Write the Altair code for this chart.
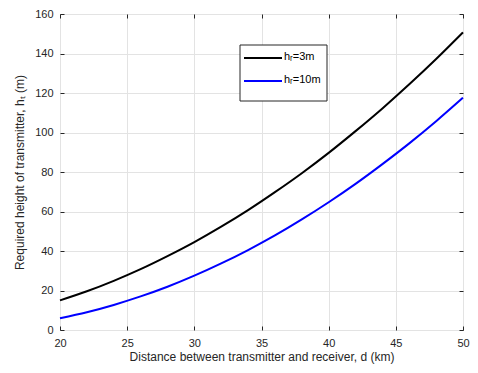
import altair as alt
import pandas as pd

distance_km = [20, 22, 24, 26, 28, 30, 32, 34, 36, 38, 40, 42, 44, 46, 48, 50]
height_hr3 = [15.0, 19.6, 24.9, 30.8, 37.4, 44.5, 52.3, 60.7, 69.8, 79.4, 89.7, 100.7, 112.2, 124.4, 137.2, 150.7]
height_hr10 = [6.0, 9.0, 12.7, 17.0, 21.9, 27.5, 33.7, 40.5, 47.9, 56.0, 64.7, 74.0, 84.0, 94.5, 105.7, 117.6]
series_names = ["hᵣ=3m", "hᵣ=10m"]
series_colors = ["#000000", "#0000ff"]
x_ticks = [20, 25, 30, 35, 40, 45, 50]
y_ticks = [0, 20, 40, 60, 80, 100, 120, 140, 160]

rows = []
for d, a, b in zip(distance_km, height_hr3, height_hr10):
    rows.append({"d": d, "h": a, "s": series_names[0]})
    rows.append({"d": d, "h": b, "s": series_names[1]})
df = pd.DataFrame(rows)

W, H = 403, 316
FONT = "Liberation Sans"
AX = "#262626"
xs = alt.Scale(domain=[20, 50], nice=False)
ys = alt.Scale(domain=[0, 160], nice=False)
color = alt.Color("s:N", scale=alt.Scale(domain=series_names, range=series_colors), legend=None)

lines = alt.Chart(df).mark_line(strokeWidth=2, interpolate="monotone").encode(
    x=alt.X("d:Q", scale=xs,
            axis=alt.Axis(values=x_ticks, title="Distance between transmitter and receiver, d (km)",
                          orient="bottom", grid=True, ticks=False, domain=False, labelFlush=False,
                          labelPadding=7, titlePadding=3)),
    y=alt.Y("h:Q", scale=ys,
            axis=alt.Axis(values=y_ticks, title="Required height of transmitter, hₜ (m)",
                          orient="left", grid=True, ticks=False, domain=False, labelFlush=False,
                          labelPadding=7, titlePadding=8)),
    color=color,
)

def tick_axis(orient, vals):
    return alt.Axis(values=vals, orient=orient, title=None, labels=False, grid=False, domain=False,
                    ticks=True, tickSize=4, offset=-4, tickColor=AX, tickWidth=1)

ticks_a = alt.Chart(df).mark_point(opacity=0).encode(
    x=alt.X("d:Q", scale=xs, axis=tick_axis("top", x_ticks)),
    y=alt.Y("h:Q", scale=ys, axis=tick_axis("right", y_ticks)),
)
ticks_b = alt.Chart(df).mark_point(opacity=0).encode(
    x=alt.X("d:Q", scale=xs, axis=tick_axis("bottom", x_ticks)),
    y=alt.Y("h:Q", scale=ys, axis=tick_axis("left", y_ticks)),
)

# Manual legend box (styling / placement only)
layers = [ticks_a, ticks_b, lines]
layers.append(alt.Chart(pd.DataFrame({"a": [0]})).mark_rect(fill="white", stroke="#262626", strokeWidth=1).encode(
    x=alt.value(180), x2=alt.value(267), y=alt.value(31), y2=alt.value(87)))
row_y = [44, 67]
for name, col, ry in zip(series_names, series_colors, row_y):
    layers.append(alt.Chart(pd.DataFrame({"s": [name]})).mark_rule(strokeWidth=2, color=col).encode(
        x=alt.value(184), x2=alt.value(222), y=alt.value(ry)))
    layers.append(alt.Chart(pd.DataFrame({"s": [name]})).mark_text(
        align="left", baseline="middle", font=FONT, fontSize=11, color="#000").encode(
        x=alt.value(224), y=alt.value(ry - 1), text="s:N"))

chart = alt.layer(*layers).resolve_axis(x="independent", y="independent").properties(
    width=W, height=H,
    autosize=alt.AutoSizeParams(type="none"),
    padding={"left": 52, "top": 6, "right": 7, "bottom": 35},
).configure_view(stroke=AX, strokeWidth=1).configure_axis(
    labelFont=FONT, titleFont=FONT, labelFontSize=11, titleFontSize=12,
    labelColor=AX, titleColor=AX, titleFontWeight="normal",
    gridColor="#e3e3e3", gridWidth=1,
)

chart.save("out.html", embed_options={"renderer": "svg", "actions": False})
